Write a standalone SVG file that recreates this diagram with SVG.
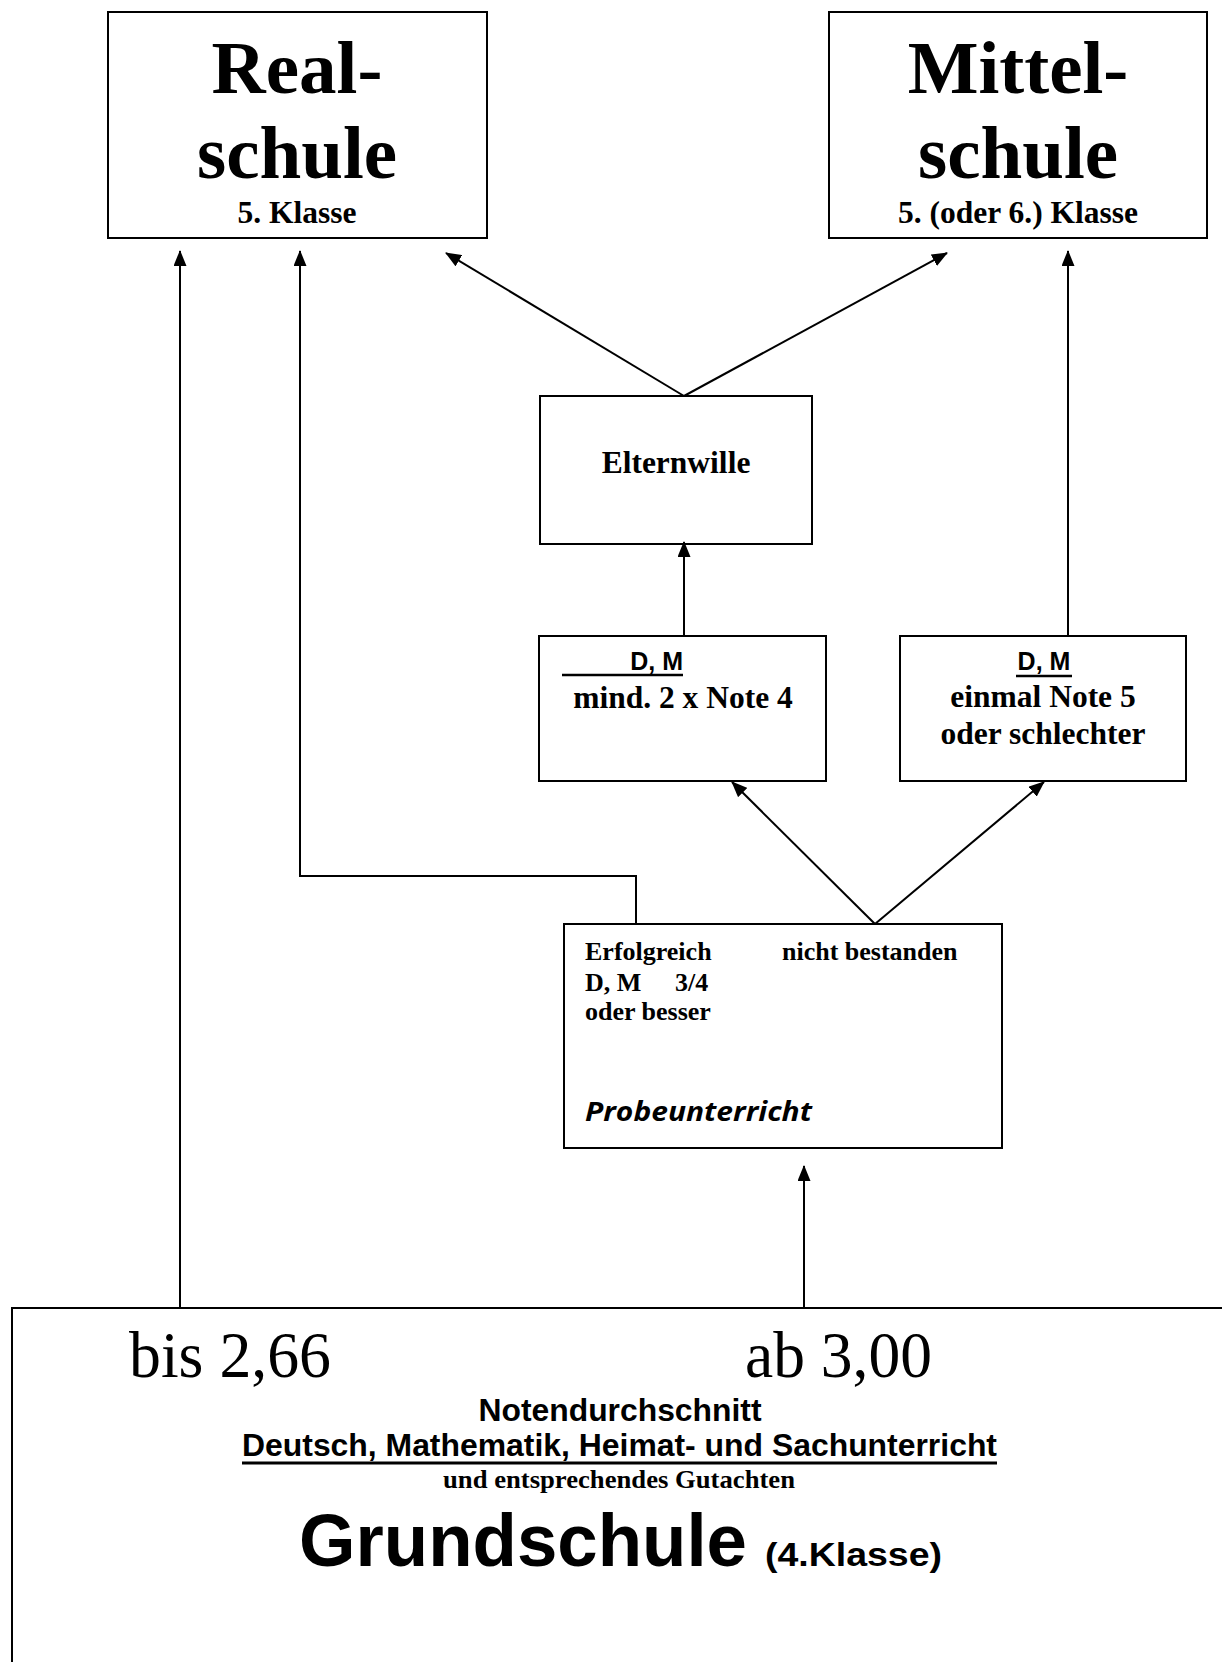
<svg xmlns="http://www.w3.org/2000/svg" width="1222" height="1662" viewBox="0 0 1222 1662">
<style>
.box{fill:#fff;stroke:#000;stroke-width:2}
.conn{fill:none;stroke:#000;stroke-width:2}
.serif{font-family:"Liberation Serif","Times New Roman",serif;font-weight:bold;fill:#000}
.serifr{font-family:"Liberation Serif","Times New Roman",serif;font-weight:normal;fill:#000}
.sans{font-family:"Liberation Sans",Arial,sans-serif;font-weight:bold;fill:#000}
.ital{font-family:"Open Sans","Liberation Sans",sans-serif;font-weight:bold;font-style:italic;fill:#000}
.big{font-size:75px}
.mid{font-size:31.5px}
.small{font-size:26px}
.ul{stroke:#000;stroke-width:2.5}
</style>
<defs>
<marker id="arr" viewBox="0 0 16 13" refX="15" refY="6.5" markerWidth="16" markerHeight="13" markerUnits="userSpaceOnUse" orient="auto">
<path d="M0,0 L16,6.5 L0,13 z" fill="#000"/>
</marker>
</defs>
<rect width="1222" height="1662" fill="#fff"/>

<g id="realschule">
<rect class="box" x="108" y="12" width="379" height="226"/>
<text class="serif big" x="297" y="93" text-anchor="middle">Real-</text>
<text class="serif big" x="297" y="178" text-anchor="middle">schule</text>
<text class="serif mid" x="297" y="223" text-anchor="middle">5. Klasse</text>
</g>

<g id="mittelschule">
<rect class="box" x="829" y="12" width="378" height="226"/>
<text class="serif big" x="1018" y="93" text-anchor="middle">Mittel-</text>
<text class="serif big" x="1018" y="178" text-anchor="middle">schule</text>
<text class="serif mid" x="1018" y="223" text-anchor="middle">5. (oder 6.) Klasse</text>
</g>

<g id="elternwille">
<rect class="box" x="540" y="396" width="272" height="148"/>
<text class="serif mid" x="676" y="473" text-anchor="middle">Elternwille</text>
</g>

<g id="dm-note4">
<rect class="box" x="539" y="636" width="287" height="145"/>
<text class="sans" font-size="25" x="683" y="670" text-anchor="end">D, M</text>
<line class="ul" x1="562" y1="675" x2="683" y2="675"/>
<text class="serif mid" x="683" y="708" text-anchor="middle">mind. 2 x Note 4</text>
</g>

<g id="dm-note5">
<rect class="box" x="900" y="636" width="286" height="145"/>
<text class="sans" font-size="25" x="1044" y="670" text-anchor="middle">D, M</text>
<line class="ul" x1="1016" y1="676" x2="1072" y2="676"/>
<text class="serif mid" x="1043" y="707" text-anchor="middle">einmal Note 5</text>
<text class="serif mid" x="1043" y="744" text-anchor="middle">oder schlechter</text>
</g>

<g id="probeunterricht">
<rect class="box" x="564" y="924" width="438" height="224"/>
<text class="serif small" x="585" y="960">Erfolgreich</text>
<text class="serif small" x="782" y="960">nicht bestanden</text>
<text class="serif small" x="585" y="991">D, M</text>
<text class="serif small" x="675" y="991">3/4</text>
<text class="serif small" x="585" y="1020">oder besser</text>
<text class="ital" font-size="26" x="585" y="1121" textLength="227" lengthAdjust="spacingAndGlyphs">Probeunterricht</text>
</g>

<g id="grundschule">
<rect class="box" x="12" y="1308" width="1230" height="380"/>
<text class="serifr" font-size="66" x="129" y="1377" textLength="202" lengthAdjust="spacingAndGlyphs">bis 2,66</text>
<text class="serifr" font-size="66" x="745" y="1377" textLength="187" lengthAdjust="spacingAndGlyphs">ab 3,00</text>
<text class="sans" font-size="31" x="620" y="1421" text-anchor="middle" textLength="283" lengthAdjust="spacingAndGlyphs">Notendurchschnitt</text>
<text class="sans" font-size="31" x="242" y="1456" textLength="755" lengthAdjust="spacingAndGlyphs">Deutsch, Mathematik, Heimat- und Sachunterricht</text>
<line x1="242" y1="1463" x2="997" y2="1463" stroke="#000" stroke-width="3"/>
<text class="serif" font-size="26" x="443" y="1488" textLength="352" lengthAdjust="spacingAndGlyphs">und entsprechendes Gutachten</text>
<text class="sans" font-size="74" x="299" y="1566" textLength="448" lengthAdjust="spacingAndGlyphs">Grundschule</text>
<text class="sans" font-size="34" x="765" y="1566" textLength="177" lengthAdjust="spacingAndGlyphs">(4.Klasse)</text>
</g>

<g id="connectors">
<path class="conn" d="M180 1308 V251" marker-end="url(#arr)"/>
<path class="conn" d="M636 924 V876 H300 V251" marker-end="url(#arr)"/>
<path class="conn" d="M684 396 L446 253" marker-end="url(#arr)"/>
<path class="conn" d="M684 396 L947 253" marker-end="url(#arr)"/>
<path class="conn" d="M684 636 V542" marker-end="url(#arr)"/>
<path class="conn" d="M1068 636 V251" marker-end="url(#arr)"/>
<path class="conn" d="M875 924 L732 782" marker-end="url(#arr)"/>
<path class="conn" d="M875 924 L1044 782" marker-end="url(#arr)"/>
<path class="conn" d="M804 1308 V1166" marker-end="url(#arr)"/>
</g>
</svg>
